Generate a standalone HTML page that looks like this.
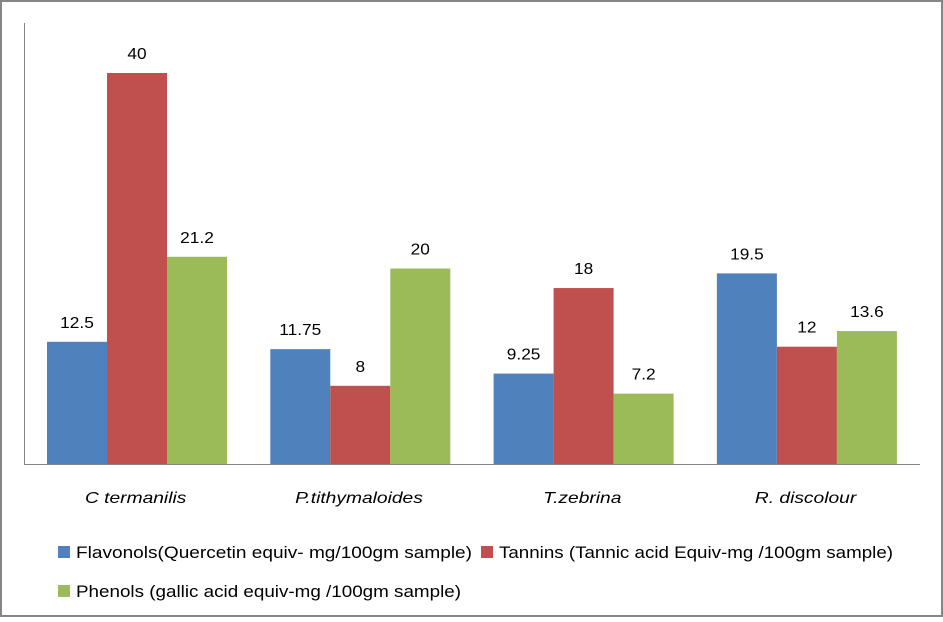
<!DOCTYPE html>
<html><head><meta charset="utf-8"><style>
html,body{margin:0;padding:0;background:#fff}
svg text{font-family:"Liberation Sans",sans-serif;fill:#000}
</style></head><body>
<svg width="943" height="617" xmlns="http://www.w3.org/2000/svg">
<rect x="1" y="1" width="941" height="615" fill="#fff" stroke="#868686" stroke-width="2"/>
<g id="bars"></g>
<line x1="24.5" y1="23" x2="24.5" y2="464" stroke="#868686"/>
<line x1="24" y1="464.5" x2="920" y2="464.5" stroke="#868686"/>
<g id="legend"></g>
</svg>
<script>
const categories=["C termanilis","P.tithymaloides","T.zebrina","R. discolour"];
const flavonols=[12.5,11.75,9.25,19.5];
const tannins=[40,8,18,12];
const phenols=[21.2,20,7.2,13.6];
const seriesNames=["Flavonols(Quercetin equiv- mg/100gm sample)","Tannins (Tannic acid Equiv-mg /100gm sample)","Phenols (gallic acid equiv-mg /100gm sample)"];
const colors=["#4f81bd","#c0504d","#9bbb59"];
const NS="http://www.w3.org/2000/svg";
const x0=24,catW=223.3,barW=60,base=464,pxPer=391/40;
const yS=v=>base-v*pxPer;
const g=document.getElementById('bars');
const all=[flavonols,tannins,phenols];
const sn=["flavonols","tannins","phenols"];
function stretch(t,f){const w=t.getComputedTextLength();t.setAttribute('textLength',w*f);t.setAttribute('lengthAdjust','spacingAndGlyphs');}
categories.forEach((c,i)=>{
  all.forEach((arr,s)=>{
    const v=arr[i],x=x0+i*catW+23+s*barW,y=yS(v);
    const r=document.createElementNS(NS,'rect');
    r.setAttribute('x',x);r.setAttribute('y',y);r.setAttribute('width',barW);r.setAttribute('height',base-y);r.setAttribute('fill',colors[s]);
    
    
    g.appendChild(r);
    const t=document.createElementNS(NS,'text');
    t.setAttribute('x',x+barW/2);t.setAttribute('y',y-14);t.setAttribute('text-anchor','middle');t.setAttribute('font-size','16');
    t.textContent=String(v);
    
    
    g.appendChild(t);
    stretch(t,1.08);
  });
  const t=document.createElementNS(NS,'text');
  t.setAttribute('x',x0+i*catW+catW/2);t.setAttribute('y',503);t.setAttribute('text-anchor','middle');t.setAttribute('font-size','16');t.setAttribute('font-style','italic');
  t.textContent=c;
  
  
  g.appendChild(t);
  stretch(t,1.2);
});
const lg=document.getElementById('legend');
const pos=[[58,551],[481,551],[58,590]];
seriesNames.forEach((n,s)=>{
  const r=document.createElementNS(NS,'rect');
  r.setAttribute('x',pos[s][0]);r.setAttribute('y',pos[s][1]-5);r.setAttribute('width',12);r.setAttribute('height',12);r.setAttribute('fill',colors[s]);
  
  
  lg.appendChild(r);
  const t=document.createElementNS(NS,'text');
  t.setAttribute('x',pos[s][0]+18);t.setAttribute('y',pos[s][1]+7);t.setAttribute('font-size','17');
  t.textContent=n;
  
  
  lg.appendChild(t);
  const w=t.getComputedTextLength();
  const target=[396,394,385][s];
  t.setAttribute('textLength',target);t.setAttribute('lengthAdjust','spacingAndGlyphs');
});
</script>
</body></html>
